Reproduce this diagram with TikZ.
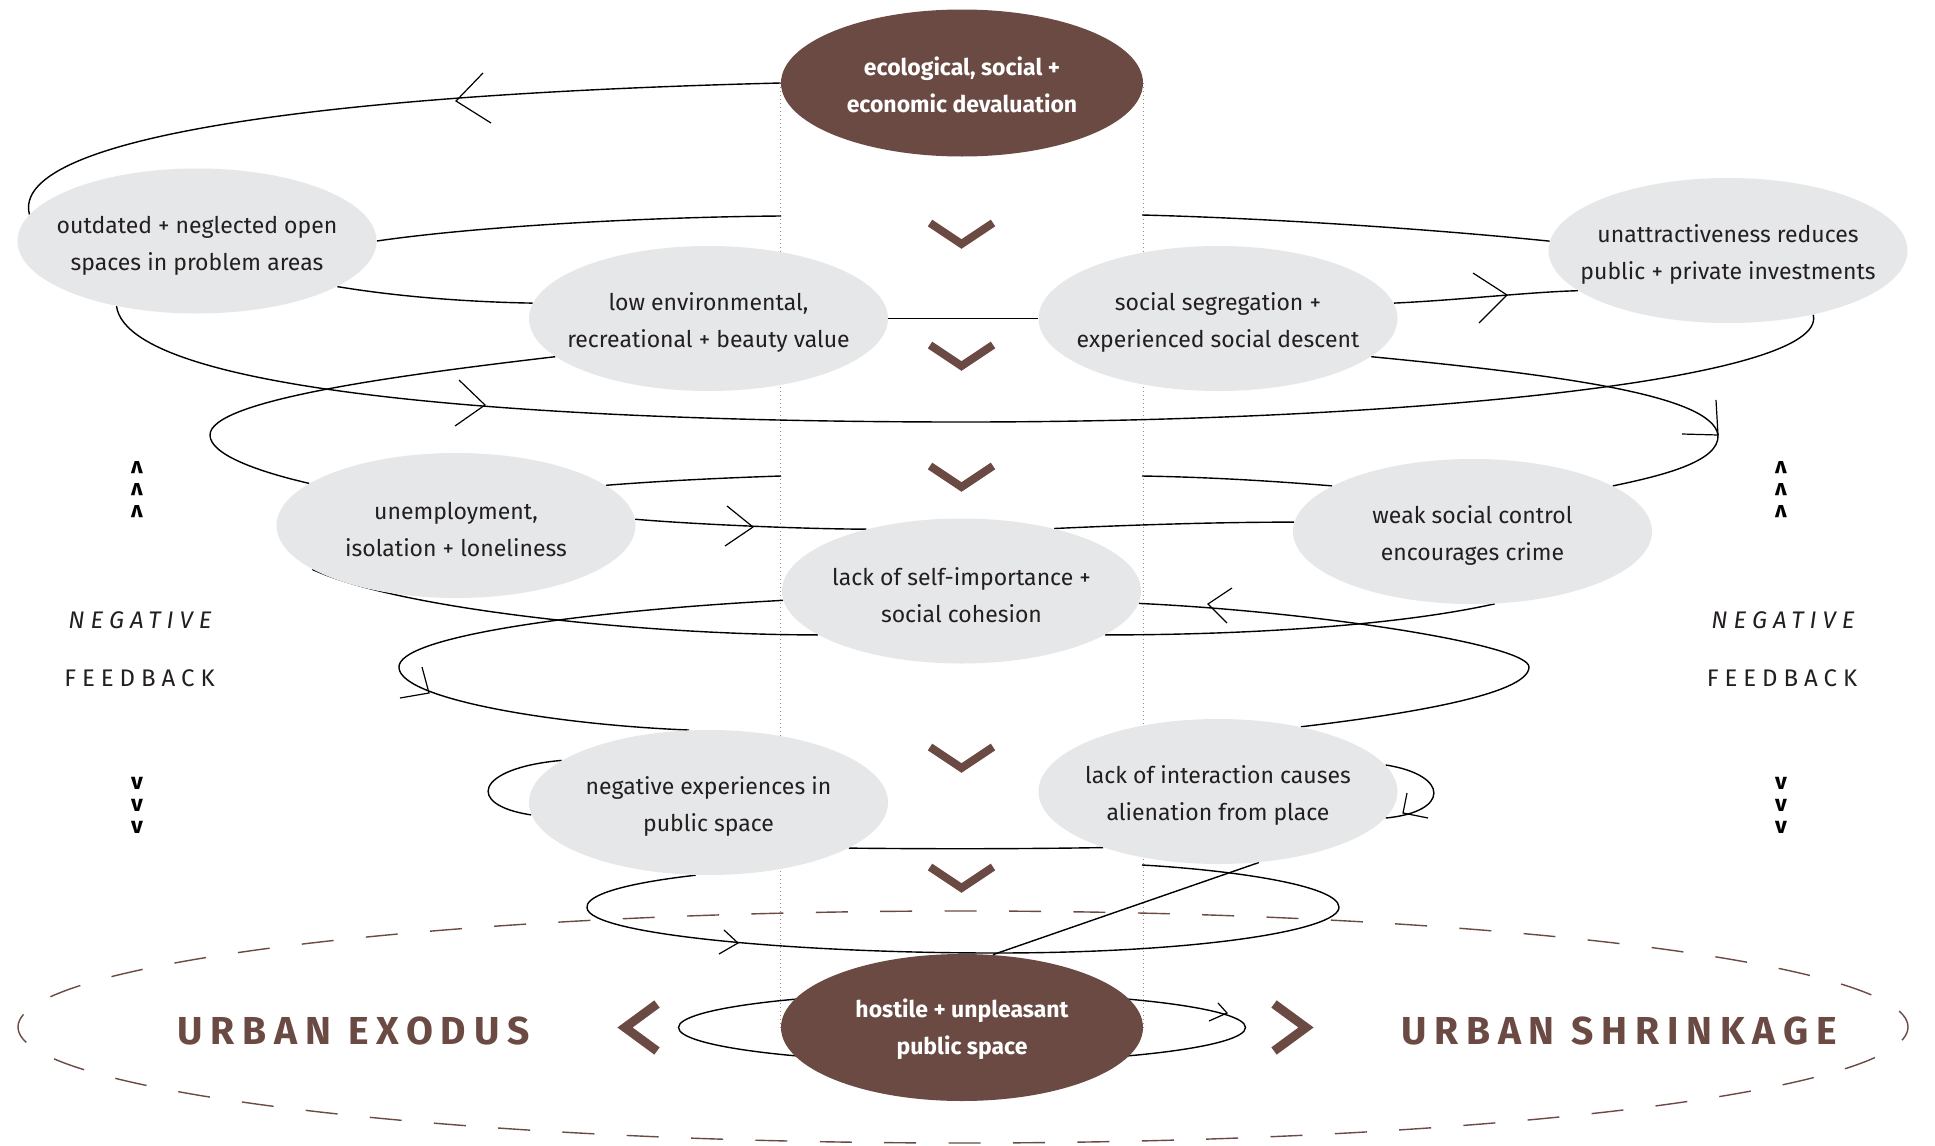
\documentclass[tikz,border=0pt]{standalone}
\usepackage{fontspec}
\setmainfont{Fira Sans}
\newfontfamily\trackedfont[LetterSpace=25]{Fira Sans}
\newfontfamily\headfont[LetterSpace=20]{Fira Sans}
\usetikzlibrary{shapes.geometric}
\pgfdeclarelayer{back}
\pgfsetlayers{back,main}

\definecolor{brownc}{HTML}{6B4A43}
\definecolor{cloud}{HTML}{E6E7E8}
\definecolor{ink}{HTML}{231F20}
\definecolor{dotc}{HTML}{9C8A86}

% open arrowhead: tip, wing, wing
\newcommand\barbs[3]{\draw[barb] #2 -- #1 -- #3;}

\begin{document}
\begin{tikzpicture}[x=0.5pt,y=-0.5pt,
  every node/.style={inner sep=0pt},
  gcloud/.style={ellipse, fill=cloud, minimum width=179.5pt, minimum height=72.5pt},
  bcloud/.style={ellipse, fill=brownc, minimum width=181pt, minimum height=73.5pt},
  lbl/.style={align=center, text=ink, yshift=-2.2pt, font=\fontsize{11.5}{18.5}\selectfont},
  wlbl/.style={align=center, text=white, yshift=-1pt, font=\bfseries\fontsize{11.5}{18.5}\selectfont},
  spiral/.style={line width=0.7pt, draw=black},
  barb/.style={line width=0.6pt, draw=black},
  chev/.style={line width=4pt, draw=brownc, miter limit=10},
  bigchev/.style={line width=4.5pt, draw=brownc, miter limit=10},
  dotline/.style={line width=0.5pt, draw=dotc, dash pattern=on 0.6pt off 1.4pt},
  frame/.style={line width=0.7pt, draw=brownc, dash pattern=on 16pt off 16.2pt, dash phase=8.6pt},
  bigtxt/.style={text=brownc, font=\headfont\bfseries\fontsize{19.5}{22}\selectfont},
  sidetxt/.style={text=ink, font=\trackedfont\fontsize{12}{14}\selectfont},
  carets/.style={align=center, text=black, font=\bfseries\fontsize{11.5}{11}\selectfont}
]
\useasboundingbox (0,0) rectangle (1935,1146);

% ---- cause nodes ----
\node[bcloud, label={[wlbl, name=topt]center:{ecological, social +\\economic devaluation}}] (top) at (962,83) {};
\node[bcloud, label={[wlbl, name=bott]center:{hostile + unpleasant\\public space}}] (bot) at (962,1027.5) {};
\node[gcloud, label={[lbl, name=e1t]center:{outdated + neglected open\\spaces in problem areas}}] (e1) at (197,241) {};
\node[gcloud, label={[lbl, name=e2t]center:{low environmental,\\recreational + beauty value}}] (e2) at (708.5,318.5) {};
\node[gcloud, label={[lbl, name=e3t]center:{social segregation +\\experienced social descent}}] (e3) at (1218,318.5) {};
\node[gcloud, label={[lbl, name=e4t]center:{unattractiveness reduces\\public + private investments}}] (e4) at (1728,250.5) {};
\node[gcloud, label={[lbl, name=e5t]center:{unemployment,\\isolation + loneliness}}] (e5) at (456,525.5) {};
\node[gcloud, label={[lbl, name=e6t]center:{weak social control\\encourages crime}}] (e6) at (1472.5,531.5) {};
\node[gcloud, label={[lbl, name=e7t]center:{lack of self-importance +\\social cohesion}}] (e7) at (961.5,591) {};
\node[gcloud, label={[lbl, name=e8t]center:{negative experiences in\\public space}}] (e8) at (708.5,802.5) {};
\node[gcloud, label={[lbl, name=e9t]center:{lack of interaction causes\\alienation from place}}] (e9) at (1218,791.5) {};

% free ends where the spiral passes behind the core
\coordinate (bl) at (781,216);
\coordinate (br) at (1142,215);
\coordinate (hl) at (781,476);
\coordinate (hr) at (1142,476);
\coordinate (sr) at (1142,865);

\begin{pgfonlayer}{back}
  \fill[white] (0,0) rectangle (1935,1146);
  % dashed outer boundary
  \draw[frame] (963,1027) ellipse [x radius=945, y radius=116];
  % core outline
  \draw[dotline] (top.west) -- (bot.west);
  \draw[dotline] (top.east) -- (bot.east);
  % spiral
  \draw[spiral] (top.west) .. controls (300,95) and (10,140) .. (e1.171);
  \draw[spiral] (e1.east) .. controls (480,226) and (650,217) .. (bl);
  \draw[spiral] (br) .. controls (1260,218) and (1420,228) .. (e4.177);
  \draw[spiral] (e1.-18) .. controls (400,297) and (470,302) .. (e2.175);
  \draw[spiral] (e2.east) -- (e3.west);
  \draw[spiral] (e3.5) .. controls (1460,300) and (1530,292) .. (e4.-165);
  \draw[spiral] (e1.-141) .. controls (130,400) and (600,422) .. (963,422)
                .. controls (1400,422) and (1830,380) .. (e4.-37);
  \draw[spiral] (e3.-14) .. controls (1560,375) and (1712,395) .. (1718,435)
                .. controls (1720,462) and (1660,476) .. (e6.18);
  \draw[spiral] (hl) .. controls (720,478) and (660,481) .. (e5.15);
  \draw[spiral] (e6.162) .. controls (1260,480) and (1200,477) .. (hr);
  \draw[spiral] (e7.34) .. controls (1130,525) and (1220,522) .. (e6.177);
  \draw[spiral] (e5.2) .. controls (690,524) and (800,529) .. (e7.147);
  \draw[spiral] (e2.-166) .. controls (400,375) and (210,400) .. (210,435)
                .. controls (210,455) and (260,472) .. (e5.164);
  \draw[spiral] (e5.-163) .. controls (400,610) and (650,635) .. (e7.-163);
  \draw[spiral] (e7.-177) .. controls (600,610) and (395,635) .. (399,668)
                .. controls (402,700) and (560,725) .. (e8.105);
  \draw[spiral] (e7.-4) .. controls (1320,612) and (1529,645) .. (1529,667)
                .. controls (1529,695) and (1400,715) .. (e9.38);
  \draw[spiral] (e6.-73) .. controls (1400,625) and (1250,635) .. (e7.-17);
  \draw[spiral] (e8.164) .. controls (475,768) and (465,805) .. (e8.-176);
  \draw[spiral] (e8.-18) .. controls (930,849) and (1020,849) .. (e9.-154);
  \draw[spiral] (e9.9) .. controls (1450,775) and (1450,812) .. (e9.-9);
  \draw[spiral] (e8.-100) .. controls (610,885) and (585,898) .. (587,908)
                .. controls (590,935) and (800,953) .. (995,953)
                .. controls (1200,953) and (1340,930) .. (1339,907)
                .. controls (1338,885) and (1230,870) .. (sr);
  \draw[spiral] (e9.-60) -- (bot.67);
  \draw[spiral] (bot.center) ellipse [x radius=283.5, y radius=35];
\end{pgfonlayer}

% arrowheads along the spiral
\barbs{(456,101)}{(483,73)}{(491,123)}
\barbs{(485,405)}{(459,380)}{(455,426)}
\barbs{(1507,295)}{(1473,273)}{(1479,323)}
\barbs{(1718,435)}{(1716,400)}{(1682,434)}
\barbs{(753,527)}{(727,506)}{(725,546)}
\barbs{(1208,604)}{(1232,588)}{(1227,623)}
\barbs{(429,693)}{(422,667)}{(400,698)}
\barbs{(1403,813)}{(1407,793)}{(1428,818)}
\barbs{(738,943)}{(724,930)}{(719,954)}
\barbs{(1227,1013)}{(1218,1003)}{(1209,1021)}

% downward chevrons on the core
\foreach \cy in {233,355,476,757,877}
  \draw[chev] (930,\cy-10) -- (961.5,\cy+11) -- (993,\cy-10);

% outward chevrons
\draw[bigchev] (657,1004) -- (625,1027.5) -- (657,1051);
\draw[bigchev] (1274,1004) -- (1306,1027.5) -- (1274,1051);

% side texts
\node[bigtxt] (exodus) at (353.5,1030.5) {URBAN EXODUS};
\node[bigtxt] (shrink) at (1619,1030.5) {URBAN SHRINKAGE};
\node[sidetxt, font=\trackedfont\itshape\fontsize{12}{14}\selectfont] (negl) at (140,620.5) {NEGATIVE};
\node[sidetxt] (feedl) at (139.5,678.5) {FEEDBACK};
\node[sidetxt, font=\trackedfont\itshape\fontsize{12}{14}\selectfont] (negr) at (1783,620.5) {NEGATIVE};
\node[sidetxt] (feedr) at (1782,678.5) {FEEDBACK};
\node[carets, rotate=180] (upl) at (137,490) {v\\v\\v};
\node[carets, rotate=180] (upr) at (1781,490) {v\\v\\v};
\node[carets] (dnl) at (137,805) {v\\v\\v};
\node[carets] (dnr) at (1781,805) {v\\v\\v};
\end{tikzpicture}
\end{document}
